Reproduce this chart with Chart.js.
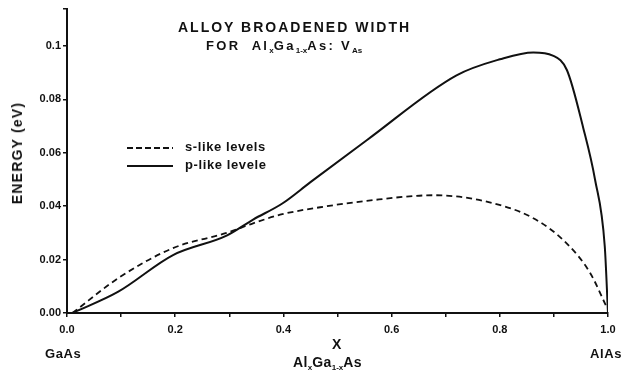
<!DOCTYPE html>
<html>
<head>
<meta charset="utf-8">
<script src="https://cdn.jsdelivr.net/npm/chart.js@4/dist/chart.umd.min.js"></script>
<style>
  html, body { margin: 0; padding: 0; background: #fff; }
  #wrap { position: relative; width: 629px; height: 378px; font-family: 'Liberation Sans', Arial, sans-serif; font-weight: bold; color: #111; }
  #wrap canvas { position: absolute; left: 0; top: 0; }
  .lbl { position: absolute; white-space: nowrap; font-size: 13px; line-height: 1; letter-spacing: 0.6px; }
  .lbl sub { font-size: 8px; vertical-align: -3px; letter-spacing: 0; }
  .sample { display: inline-block; width: 46px; height: 2px; vertical-align: middle; margin-right: 12px; background: #111; }
  .sample.dash { background: repeating-linear-gradient(to right, #111 0, #111 6px, transparent 6px, transparent 9px); }
</style>
</head>
<body>
<div id="wrap">
  <canvas id="chart" width="629" height="378"></canvas>
  <div class="lbl" style="left:178px; top:20px; font-size:14px; letter-spacing:2px;">ALLOY BROADENED WIDTH</div>
  <div class="lbl" style="left:206px; top:39px; letter-spacing:2.3px;">FOR&nbsp; Al<sub>x</sub>Ga<sub>1-x</sub>As: V<sub>As</sub></div>
  <div class="lbl" style="left:127px; top:140px;"><span class="sample dash"></span>s-like levels</div>
  <div class="lbl" style="left:127px; top:158px;"><span class="sample"></span>p-like levele</div>
  <div class="lbl" style="left:17px; top:153px; font-size:14px; letter-spacing:1.2px; transform:translate(-50%,-50%) rotate(-90deg);">ENERGY (eV)</div>
  <div class="lbl" style="left:332px; top:337px; font-size:14px;">X</div>
  <div class="lbl" style="left:293px; top:355px; font-size:14px; letter-spacing:0.4px;">Al<sub>x</sub>Ga<sub>1-x</sub>As</div>
  <div class="lbl" style="left:45px; top:347px;">GaAs</div>
  <div class="lbl" style="left:590px; top:347px;">AlAs</div>
</div>
<script>
// x = Al fraction, y = energy (eV)
var sX = [0.01, 0.098, 0.196, 0.295, 0.344, 0.398, 0.468, 0.554, 0.677, 0.769, 0.862, 0.924, 0.967, 0.998];
var sY = [0, 0.0135, 0.0243, 0.030, 0.0336, 0.037, 0.0396, 0.042, 0.0441, 0.042, 0.0355, 0.026, 0.015, 0.002];

var pX = [0.01, 0.094, 0.196, 0.295, 0.344, 0.398, 0.45, 0.554, 0.72, 0.80, 0.862, 0.898, 0.924, 0.954, 0.976, 0.994, 1.0];
var pY = [0, 0.0079, 0.0217, 0.029, 0.035, 0.041, 0.049, 0.0647, 0.089, 0.095, 0.0976, 0.0964, 0.091, 0.0695, 0.050, 0.025, 0];

var xTickLabels = { '0': '0.0', '0.2': '0.2', '0.4': '0.4', '0.6': '0.6', '0.8': '0.8', '1': '1.0' };
var yTickLabels = { '0': '0.00', '0.02': '0.02', '0.04': '0.04', '0.06': '0.06', '0.08': '0.08', '0.1': '0.1' };

function pairs(xs, ys) {
    return xs.map(function(x, i) { return { x: x, y: ys[i] }; });
}

var tickFont = { family: "'Liberation Sans', Arial, sans-serif", size: 11, weight: 'bold' };

new Chart(document.getElementById('chart'), {
    type: 'scatter',
    data: {
        datasets: [{
            label: 's-like levels',
            data: pairs(sX, sY),
            showLine: true,
            borderColor: '#111',
            borderWidth: 1.8,
            borderDash: [6, 4],
            pointRadius: 0,
            cubicInterpolationMode: 'monotone'
        }, {
            label: 'p-like levele',
            data: pairs(pX, pY),
            showLine: true,
            borderColor: '#111',
            borderWidth: 2,
            pointRadius: 0,
            cubicInterpolationMode: 'monotone'
        }]
    },
    options: {
        responsive: false,
        animation: false,
        layout: { padding: { top: 8, right: 21, left: 0, bottom: 0 } },
        plugins: { legend: { display: false }, tooltip: { enabled: false } },
        scales: {
            x: {
                type: 'linear', min: 0, max: 1,
                border: { color: '#111', width: 2 },
                grid: { drawOnChartArea: false, drawTicks: true, tickLength: 4, color: '#111', lineWidth: 1.5 },
                ticks: {
                    stepSize: 0.1, color: '#111', font: tickFont, maxRotation: 0, padding: 6,
                    callback: function(v) { var k = String(Math.round(v * 10) / 10); return xTickLabels[k] || ''; }
                },
                afterFit: function(s) { s.height = 65; }
            },
            y: {
                type: 'linear', min: 0, max: 0.114,
                border: { color: '#111', width: 2 },
                grid: { drawOnChartArea: false, drawTicks: true, tickLength: 4, color: '#111', lineWidth: 1.5 },
                ticks: {
                    stepSize: 0.02, color: '#111', font: tickFont, padding: 2,
                    callback: function(v) { var k = String(Math.round(v * 100) / 100); return yTickLabels[k] || ''; }
                },
                afterFit: function(s) { s.width = 67; }
            }
        }
    }
});
</script>
</body>
</html>
